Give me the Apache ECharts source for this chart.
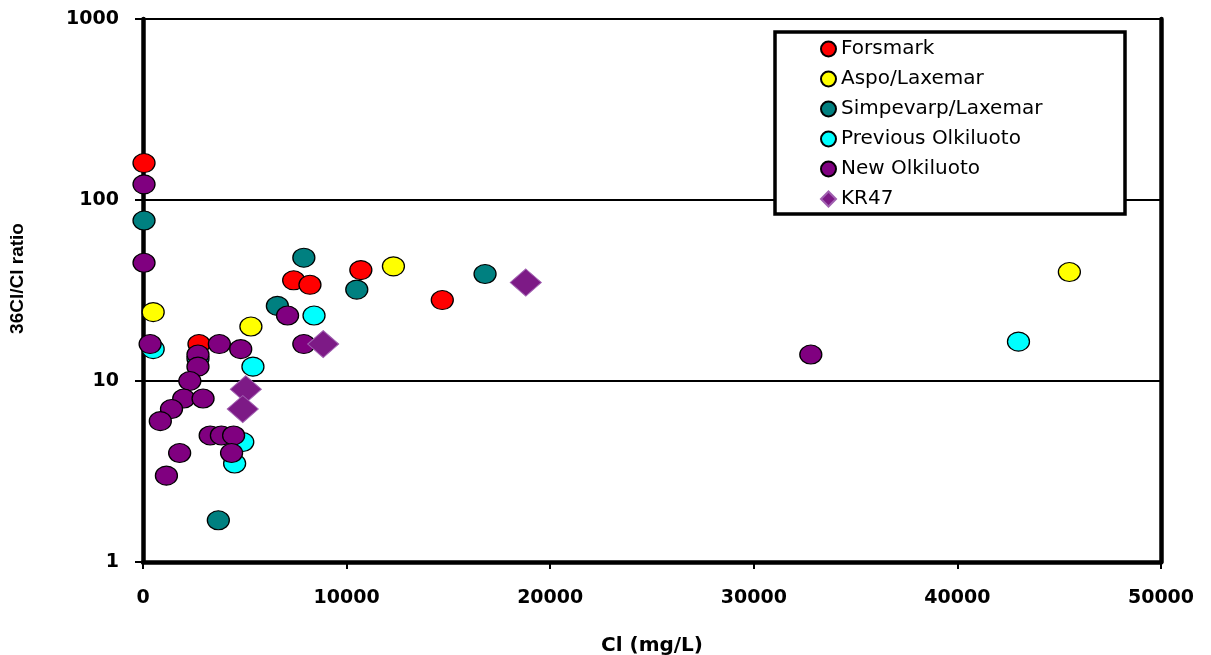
<!DOCTYPE html>
<html>
<head>
<meta charset="utf-8">
<script src="https://cdn.jsdelivr.net/npm/echarts@6/dist/echarts.min.js"></script>
<style>
    html, body { margin: 0; padding: 0; background: #fff; }
    #demo { width: 1211px; height: 655px; }
</style>
</head>
<body>
<div id="demo"></div>
<script>
// Cl (mg/L) vs 36Cl/Cl ratio
var forsmark = [[50, 160], [2750, 16], [7400, 36], [8200, 34], [10700, 41], [14700, 28]];
var aspoLaxemar = [[500, 24], [5300, 20], [12300, 43], [45500, 40]];
var simpevarpLaxemar = [[50, 77], [7900, 48], [6600, 26], [10500, 32], [16800, 39], [3700, 1.7]];
var previousOlkiluoto = [[500, 15], [2700, 13.3], [5400, 12], [8400, 23], [4900, 4.6], [4500, 3.5], [43000, 16.5]];
var newOlkiluoto = [[50, 122], [50, 45], [350, 16], [3750, 16], [4800, 15], [7900, 16], [7100, 23], [32800, 14],
    [2700, 14], [2700, 12], [2300, 10], [2000, 8], [2950, 8], [1400, 7], [850, 6], [1800, 4], [1150, 3],
    [3300, 5], [3850, 5], [4450, 5], [4350, 4]];
var kr47 = [[8850, 16], [5050, 9], [4900, 7], [18800, 35]];

var seriesNames = ['Forsmark', 'Aspo/Laxemar', 'Simpevarp/Laxemar', 'Previous Olkiluoto', 'New Olkiluoto', 'KR47'];

var app = {
    init: function () {
        this.renderChart();
    },
    dotSeries: function (name, data, color) {
        return {
            name: name,
            type: 'scatter',
            clip: false,
            symbol: 'circle',
            symbolSize: [22, 19],
            itemStyle: {
                color: color,
                borderColor: '#000',
                borderWidth: 1.2,
                opacity: 1
            },
            data: data
        };
    },
    plainNum: function (v) {
        return String(v);
    },
    renderChart: function () {
        var self = this;
        var chart = echarts.init(document.getElementById('demo'));
        var tickFont = {
            color: '#000',
            fontFamily: 'DejaVu Sans',
            fontWeight: 'bold',
            fontSize: 19,
            formatter: self.plainNum
        };
        var option = {
            animation: false,
            backgroundColor: '#fff',
            grid: {
                left: 143,
                right: 50,
                top: 19,
                bottom: 93,
                containLabel: false,
                outerBoundsMode: 'none'
            },
            graphic: [{
                type: 'rect',
                z: 3,
                shape: { x: 775, y: 32, width: 350, height: 182 },
                style: { fill: '#fff', stroke: '#000', lineWidth: 3.5 }
            }],
            legend: {
                orient: 'vertical',
                left: 815,
                top: 34,
                z: 5,
                itemWidth: 15,
                itemHeight: 15,
                itemGap: 10,
                data: seriesNames,
                textStyle: {
                    color: '#000',
                    fontFamily: 'DejaVu Sans',
                    fontSize: 20,
                    lineHeight: 20
                }
            },
            xAxis: {
                type: 'value',
                min: 0,
                max: 50000,
                interval: 10000,
                name: 'Cl (mg/L)',
                nameLocation: 'middle',
                nameGap: 74,
                nameTextStyle: {
                    color: '#000',
                    fontFamily: 'DejaVu Sans',
                    fontWeight: 'bold',
                    fontSize: 20
                },
                axisLine: { lineStyle: { color: '#000', width: 4.5 } },
                axisTick: { show: true, length: 7, lineStyle: { color: '#000', width: 2 } },
                axisLabel: Object.assign({ margin: 27 }, tickFont),
                splitLine: { show: false }
            },
            yAxis: [{
                type: 'log',
                logBase: 10,
                min: 1,
                max: 1000,
                name: '36Cl/Cl ratio',
                nameLocation: 'middle',
                nameGap: 116,
                nameTextStyle: {
                    color: '#000',
                    fontFamily: 'Liberation Sans',
                    fontWeight: 'bold',
                    fontSize: 19,
                    padding: [0, 0, 0, 24]
                },
                axisLine: { show: true, lineStyle: { color: '#000', width: 4.5 } },
                axisTick: { show: true, length: 8, lineStyle: { color: '#000', width: 2 } },
                axisLabel: Object.assign({ margin: 24 }, tickFont),
                splitLine: { show: true, lineStyle: { color: '#000', width: 2 } }
            }, {
                // right frame
                type: 'log',
                logBase: 10,
                min: 1,
                max: 1000,
                position: 'right',
                axisLine: { show: true, lineStyle: { color: '#000', width: 4.5 } },
                axisTick: { show: false },
                axisLabel: { show: false },
                splitLine: { show: false }
            }],
            series: [
                self.dotSeries(seriesNames[0], forsmark, '#ff0000'),
                self.dotSeries(seriesNames[1], aspoLaxemar, '#ffff00'),
                self.dotSeries(seriesNames[2], simpevarpLaxemar, '#008080'),
                self.dotSeries(seriesNames[3], previousOlkiluoto, '#00ffff'),
                self.dotSeries(seriesNames[4], newOlkiluoto, '#800080'),
                {
                    name: seriesNames[5],
                    type: 'scatter',
                    clip: false,
                    symbol: 'diamond',
                    symbolSize: [31, 27],
                    itemStyle: {
                        color: '#7d1a86',
                        borderColor: '#a060b0',
                        borderWidth: 1,
                        opacity: 1
                    },
                    data: kr47
                }
            ]
        };
        chart.setOption(option, true);
    }
};

app.init();
</script>
</body>
</html>
